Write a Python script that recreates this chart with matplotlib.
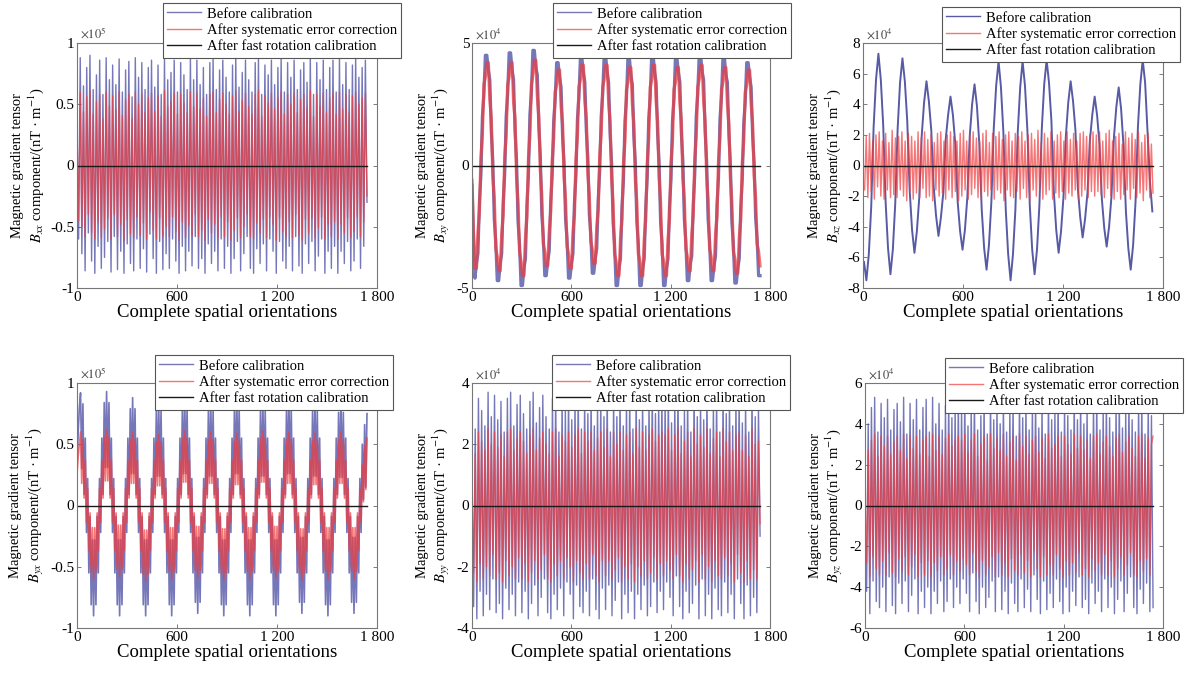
import numpy as np
import matplotlib
matplotlib.use('Agg')
import matplotlib.pyplot as plt

plt.rcParams['font.family'] = ['Liberation Serif', 'DejaVu Serif']
plt.rcParams['mathtext.fontset'] = 'stix'
plt.rcParams['axes.unicode_minus'] = False

# ---- data (values in units of 10^exp) ----
n_orient = 1740
x_ticks = [0, 600, 1200, 1800]
x_ticklabels = ['0', '600', '1 200', '1 800']
series_names = ['Before calibration', 'After systematic error correction',
                'After fast rotation calibration']
components = ['xx', 'xy', 'xz', 'yx', 'yy', 'yz']
exponents = [5, 4, 4, 5, 4, 4]
y_limits = [1, 5, 8, 1, 4, 6]
y_steps = [0.5, 5, 2, 0.5, 2, 2]

# B_xx
xx_before = [
    0.35, -0.60, 0.88, -0.72, 0.65, -0.86, 0.80, -0.55, 0.90, -0.78, 0.62, -0.88,
    0.74, -0.66, 0.86, -0.84, 0.58, -0.75, 0.88, -0.62, 0.70, -0.87, 0.82, -0.58,
    0.66, -0.85, 0.87, -0.70, 0.60, -0.88, 0.78, -0.64, 0.85, -0.80, 0.56, -0.86,
    0.88, -0.60, 0.72, -0.84, 0.84, -0.68, 0.62, -0.87, 0.80, -0.56, 0.86, -0.76,
    0.64, -0.88, 0.82, -0.62, 0.58, -0.85, 0.88, -0.72, 0.70, -0.84, 0.76, -0.60,
    0.86, -0.78, 0.60, -0.88, 0.84, -0.66, 0.74, -0.86, 0.62, -0.70, 0.88, -0.82,
    0.70, -0.58, 0.86, -0.84, 0.66, -0.76, 0.80, -0.88, 0.58, -0.64, 0.84, -0.80,
    0.88, -0.70, 0.62, -0.86, 0.78, -0.60, 0.86, -0.84, 0.72, -0.66, 0.60, -0.88,
    0.82, -0.76, 0.88, -0.62, 0.64, -0.86, 0.76, -0.72, 0.86, -0.58, 0.70, -0.84,
    0.60, -0.88, 0.84, -0.68, 0.88, -0.80, 0.58, -0.64, 0.82, -0.86, 0.74, -0.60,
    0.86, -0.70, 0.66, -0.88, 0.80, -0.62, 0.88, -0.78, 0.60, -0.84, 0.84, -0.66,
    0.72, -0.86, 0.86, -0.58, 0.62, -0.82, 0.78, -0.88, 0.84, -0.64, 0.68, -0.80,
    0.88, -0.62, 0.58, -0.86, 0.84, -0.74, 0.70, -0.60, 0.86, -0.88, 0.62, -0.70,
    0.80, -0.84, 0.86, -0.66, 0.60, -0.88, 0.88, -0.70, 0.66, -0.80, 0.84, -0.62,
    0.62, -0.86, 0.82, -0.78, 0.88, -0.60, 0.72, -0.84, 0.80, -0.66, 0.86, -0.30]
xx_after_sys = [
    0.25, -0.45, 0.60, -0.50, 0.44, -0.58, 0.56, -0.40, 0.61, -0.55, 0.42, -0.60,
    0.52, -0.46, 0.58, -0.59, 0.38, -0.52, 0.60, -0.43, 0.49, -0.60, 0.57, -0.40,
    0.46, -0.58, 0.60, -0.48, 0.41, -0.61, 0.54, -0.44, 0.58, -0.56, 0.38, -0.59,
    0.60, -0.42, 0.50, -0.57, 0.58, -0.47, 0.43, -0.60, 0.55, -0.38, 0.59, -0.53,
    0.44, -0.60, 0.57, -0.43, 0.40, -0.58, 0.61, -0.50, 0.48, -0.58, 0.52, -0.42,
    0.59, -0.54, 0.42, -0.61, 0.58, -0.46, 0.51, -0.59, 0.43, -0.49, 0.60, -0.57,
    0.48, -0.40, 0.59, -0.58, 0.46, -0.53, 0.55, -0.61, 0.40, -0.44, 0.58, -0.55,
    0.60, -0.48, 0.43, -0.59, 0.54, -0.42, 0.59, -0.58, 0.50, -0.46, 0.42, -0.61,
    0.57, -0.53, 0.61, -0.43, 0.44, -0.59, 0.53, -0.50, 0.59, -0.40, 0.48, -0.58,
    0.42, -0.60, 0.58, -0.47, 0.61, -0.55, 0.40, -0.44, 0.57, -0.59, 0.51, -0.42,
    0.59, -0.48, 0.46, -0.61, 0.55, -0.43, 0.60, -0.54, 0.42, -0.58, 0.58, -0.46,
    0.50, -0.59, 0.59, -0.40, 0.43, -0.57, 0.54, -0.61, 0.58, -0.44, 0.47, -0.55,
    0.61, -0.43, 0.40, -0.59, 0.58, -0.51, 0.48, -0.42, 0.59, -0.60, 0.43, -0.48,
    0.55, -0.58, 0.59, -0.46, 0.42, -0.60, 0.60, -0.48, 0.46, -0.55, 0.58, -0.43,
    0.43, -0.59, 0.57, -0.54, 0.60, -0.42, 0.50, -0.58, 0.55, -0.46, 0.59, -0.25]
xx_after_fast = [0.0, 0.0, 0.0, 0.0, 0.0, 0.0]

# B_xy (one row per half swing)
xy_before = [
    -0.8, -3.0, -4.6,
    -4.0, -3.6, -1.5, -0.4, 2.0, 2.9, 4.5, 4.5,
    3.9, 3.5, 1.4, 0.2, -2.2, -3.1, -4.7, -4.7,
    -4.0, -3.6, -1.5, -0.4, 2.0, 2.9, 4.6, 4.6,
    3.9, 3.5, 1.4, 0.2, -2.3, -3.2, -4.9, -4.9,
    -4.2, -3.8, -1.6, -0.4, 2.1, 3.0, 4.7, 4.7,
    4.0, 3.7, 1.6, 0.4, -2.0, -2.9, -4.5, -4.5,
    -3.9, -3.5, -1.5, -0.4, 1.8, 2.7, 4.2, 4.2,
    3.6, 3.2, 1.2, 0.1, -2.2, -3.0, -4.6, -4.6,
    -4.0, -3.6, -1.5, -0.4, 1.9, 2.8, 4.4, 4.4,
    3.8, 3.4, 1.4, 0.3, -2.0, -2.8, -4.4, -4.4,
    -3.8, -3.4, -1.4, -0.2, 2.0, 2.9, 4.5, 4.5,
    3.8, 3.4, 1.3, 0.1, -2.3, -3.2, -4.9, -4.9,
    -4.2, -3.8, -1.7, -0.6, 1.8, 2.7, 4.4, 4.4,
    3.7, 3.3, 1.2, 0.1, -2.3, -3.2, -4.9, -4.9,
    -4.2, -3.8, -1.7, -0.5, 1.9, 2.8, 4.5, 4.5,
    3.8, 3.4, 1.3, 0.1, -2.3, -3.2, -4.9, -4.9,
    -4.2, -3.8, -1.7, -0.6, 1.8, 2.7, 4.4, 4.4,
    3.8, 3.4, 1.3, 0.2, -2.2, -3.1, -4.7, -4.7,
    -4.0, -3.7, -1.6, -0.4, 2.0, 2.9, 4.5, 4.5,
    3.8, 3.5, 1.4, 0.2, -2.2, -3.1, -4.7, -4.7,
    -4.1, -3.7, -1.6, -0.5, 1.9, 2.8, 4.4, 4.4,
    3.7, 3.4, 1.3, 0.1, -2.3, -3.2, -4.8, -4.8,
    -4.2, -3.8, -1.7, -0.6, 1.7, 2.6, 4.2, 4.2,
    3.6, 3.2, 1.2, 0.1, -2.1, -3.0, -4.5, -4.5]
xy_after_sys = [
    -0.6, -2.7, -4.2,
    -4.2, -2.7, -1.9, 0.3, 1.3, 3.3, 3.6, 4.2,
    4.2, 2.7, 1.9, -0.4, -1.3, -3.4, -3.7, -4.3,
    -4.3, -2.8, -2.0, 0.3, 1.2, 3.3, 3.6, 4.2,
    4.2, 2.6, 1.9, -0.5, -1.5, -3.5, -3.9, -4.5,
    -4.5, -2.9, -2.1, 0.3, 1.2, 3.3, 3.7, 4.3,
    4.3, 2.8, 2.0, -0.2, -1.2, -3.2, -3.5, -4.1,
    -4.1, -2.7, -1.9, 0.2, 1.1, 3.0, 3.3, 3.9,
    3.9, 2.4, 1.7, -0.5, -1.4, -3.3, -3.6, -4.2,
    -4.2, -2.7, -2.0, 0.3, 1.2, 3.2, 3.5, 4.1,
    4.1, 2.6, 1.9, -0.3, -1.2, -3.1, -3.4, -4.0,
    -4.0, -2.5, -1.8, 0.4, 1.3, 3.2, 3.5, 4.1,
    4.1, 2.6, 1.8, -0.5, -1.5, -3.6, -3.9, -4.5,
    -4.5, -3.0, -2.2, 0.1, 1.0, 3.1, 3.4, 4.0,
    4.0, 2.5, 1.7, -0.6, -1.5, -3.6, -3.9, -4.5,
    -4.5, -3.0, -2.2, 0.1, 1.1, 3.2, 3.5, 4.1,
    4.1, 2.6, 1.8, -0.5, -1.5, -3.6, -3.9, -4.5,
    -4.5, -3.0, -2.2, 0.1, 1.0, 3.1, 3.4, 4.0,
    4.0, 2.5, 1.8, -0.5, -1.4, -3.4, -3.7, -4.3,
    -4.3, -2.8, -2.0, 0.2, 1.2, 3.2, 3.5, 4.1,
    4.1, 2.6, 1.8, -0.4, -1.4, -3.4, -3.7, -4.3,
    -4.3, -2.8, -2.1, 0.2, 1.1, 3.1, 3.4, 4.0,
    4.0, 2.5, 1.7, -0.5, -1.5, -3.5, -3.8, -4.4,
    -4.4, -2.9, -2.2, 0.1, 1.0, 3.0, 3.3, 3.9,
    3.9, 2.5, 1.7, -0.4, -1.3, -3.2, -3.5, -4.1]
xy_after_fast = [0.0, 0.0, 0.0, 0.0, 0.0, 0.0]

# B_xz
xz_before_span = (6, 1736)
xz_before = [
    -6.3, -7.5,
    -5.8, -2.7, 2.5, 5.6, 7.3,
    5.6, 2.6, -2.4, -5.4, -7.1,
    -5.5, -2.5, 2.4, 5.4, 7.0,
    5.5, 2.9, -1.6, -4.2, -5.7,
    -4.3, -2.1, 1.9, 4.1, 5.5,
    4.2, 2.3, -1.4, -3.3, -4.6,
    -3.4, -1.8, 1.7, 3.3, 4.5,
    3.3, 1.4, -2.4, -4.3, -5.5,
    -4.2, -2.1, 1.9, 4.0, 5.3,
    3.9, 1.4, -2.9, -5.4, -6.8,
    -5.2, -2.4, 2.4, 5.2, 6.8,
    5.1, 2.2, -2.9, -5.8, -7.5,
    -5.8, -2.9, 2.2, 5.1, 6.8,
    5.2, 2.3, -2.6, -5.5, -7.1,
    -5.5, -2.6, 2.4, 5.3, 6.9,
    5.4, 2.9, -1.7, -4.2, -5.7,
    -4.3, -2.1, 1.9, 4.1, 5.5,
    4.2, 2.3, -1.5, -3.4, -4.7,
    -3.5, -1.8, 1.6, 3.3, 4.5,
    3.3, 1.4, -2.2, -4.1, -5.3,
    -4.0, -2.0, 1.8, 3.8, 5.1,
    3.7, 1.3, -3.0, -5.4, -6.8,
    -5.2, -2.4, 2.5, 5.3, 6.9,
    5.4, 2.2, -1.0, -3.0]
xz_after_sys = [
    -1.5, -1.6, 1.9, -2.1, 2.1, -1.7, 1.6, -2.2, 2.0, -1.4, 2.2, -2.0,
    1.6, -2.2, 2.1, -1.6, 1.5, -2.1, 2.3, -1.9, 1.8, -2.1, 1.9, -1.6,
    2.2, -2.0, 1.6, -2.3, 2.1, -1.7, 1.9, -2.2, 1.6, -1.8, 2.2, -2.1,
    1.8, -1.5, 2.2, -2.1, 1.7, -2.0, 2.0, -2.3, 1.5, -1.6, 2.1, -2.0,
    2.2, -1.8, 1.6, -2.2, 2.0, -1.6, 2.2, -2.1, 1.9, -1.7, 1.6, -2.3,
    2.1, -2.0, 2.3, -1.6, 1.6, -2.2, 2.0, -1.9, 2.2, -1.5, 1.8, -2.1,
    1.6, -2.2, 2.1, -1.7, 2.3, -2.0, 1.5, -1.6, 2.1, -2.2, 1.9, -1.6,
    2.2, -1.8, 1.7, -2.3, 2.0, -1.6, 2.2, -2.0, 1.6, -2.1, 2.1, -1.7,
    1.9, -2.2, 2.2, -1.5, 1.6, -2.1, 2.0, -2.3, 2.1, -1.6, 1.7, -2.0,
    2.3, -1.6, 1.5, -2.2, 2.1, -1.9, 1.8, -1.6, 2.2, -2.2, 1.6, -1.8,
    2.0, -2.1, 2.2, -1.7, 1.6, -2.2, 2.2, -1.8, 1.7, -2.0, 2.1, -1.6,
    1.6, -2.2, 2.1, -2.0, 2.2, -1.6, 1.9, -2.1, 2.0, -1.7, 2.2, -2.0,
    2.0, -1.7, 2.2, -1.9, 1.6, -2.1, 2.1, -1.5, 2.3, -2.0, 1.6, -2.2,
    1.9, -1.7, 2.1, -2.2, 1.4, -1.9, 2.2, -1.6, 1.8, -2.2, 2.1, -1.5,
    1.7, -2.1, 2.2, -1.8, 1.5, -2.3, 2.0, -1.6, 2.1, -2.1, 1.4, -1.8]
xz_after_fast = [0.0, 0.0, 0.0, 0.0, 0.0, 0.0]

# B_yx (one row per half swing)
yx_before = [
    0.30, 0.60, 0.80, 0.92,
    0.30, 0.83, 0.09, 0.55, -0.22, 0.22, -0.55, -0.09, -0.81, -0.28, -0.90,
    -0.28, -0.81, -0.09, -0.55, 0.22, -0.22, 0.55, 0.09, 0.84, 0.31, 0.93,
    0.31, 0.84, 0.09, 0.55, -0.22, 0.22, -0.55, -0.09, -0.81, -0.28, -0.90,
    -0.28, -0.81, -0.09, -0.55, 0.22, -0.22, 0.55, 0.09, 0.79, 0.26, 0.88,
    0.26, 0.79, 0.09, 0.55, -0.22, 0.22, -0.55, -0.09, -0.81, -0.28, -0.90,
    -0.28, -0.81, -0.09, -0.55, 0.22, -0.22, 0.55, 0.09, 0.77, 0.24, 0.86,
    0.24, 0.77, 0.09, 0.55, -0.22, 0.22, -0.55, -0.09, -0.81, -0.28, -0.90,
    -0.28, -0.81, -0.09, -0.55, 0.22, -0.22, 0.55, 0.09, 0.79, 0.26, 0.88,
    0.26, 0.79, 0.09, 0.55, -0.22, 0.22, -0.55, -0.09, -0.79, -0.26, -0.88,
    -0.26, -0.79, -0.09, -0.55, 0.22, -0.22, 0.55, 0.09, 0.77, 0.24, 0.86,
    0.24, 0.77, 0.09, 0.55, -0.22, 0.22, -0.55, -0.09, -0.81, -0.28, -0.90,
    -0.28, -0.81, -0.09, -0.55, 0.22, -0.22, 0.55, 0.09, 0.79, 0.26, 0.88,
    0.26, 0.79, 0.09, 0.55, -0.22, 0.22, -0.55, -0.09, -0.81, -0.28, -0.90,
    -0.28, -0.81, -0.09, -0.55, 0.22, -0.22, 0.55, 0.09, 0.77, 0.24, 0.86,
    0.24, 0.77, 0.09, 0.55, -0.22, 0.22, -0.55, -0.09, -0.81, -0.28, -0.90,
    -0.28, -0.81, -0.09, -0.55, 0.22, -0.22, 0.55, 0.09, 0.79, 0.26, 0.88,
    0.26, 0.79, 0.09, 0.55, -0.22, 0.22, -0.55, -0.09, -0.79, -0.26, -0.88,
    -0.26, -0.79, -0.09, -0.55, 0.22, -0.22, 0.55, 0.09, 0.77, 0.24, 0.86,
    0.24, 0.77, 0.09, 0.55, -0.22, 0.22, -0.55, -0.09, -0.81, -0.28, -0.90,
    -0.28, -0.81, -0.09, -0.55, 0.22, -0.22, 0.55, 0.09, 0.76, 0.23, 0.85,
    0.23, 0.76, 0.09, 0.55, -0.22, 0.22, -0.55, -0.09, -0.79, -0.26, -0.88,
    -0.26, -0.79, -0.09, -0.55, 0.22, -0.22, 0.50, 0.05, 0.66, 0.15, 0.75]
yx_after_sys = [
    0.25, 0.40, 0.50, 0.60,
    0.18, 0.54, 0.06, 0.37, -0.14, 0.14, -0.37, -0.06, -0.54, -0.18, -0.60,
    -0.18, -0.54, -0.06, -0.37, 0.14, -0.14, 0.37, 0.06, 0.56, 0.20, 0.62,
    0.20, 0.56, 0.06, 0.37, -0.14, 0.14, -0.37, -0.06, -0.52, -0.16, -0.58,
    -0.16, -0.52, -0.06, -0.37, 0.14, -0.14, 0.37, 0.06, 0.54, 0.18, 0.60,
    0.18, 0.54, 0.06, 0.37, -0.14, 0.14, -0.37, -0.06, -0.56, -0.20, -0.62,
    -0.20, -0.56, -0.06, -0.37, 0.14, -0.14, 0.37, 0.06, 0.52, 0.16, 0.58,
    0.16, 0.52, 0.06, 0.37, -0.14, 0.14, -0.37, -0.06, -0.54, -0.18, -0.60,
    -0.18, -0.54, -0.06, -0.37, 0.14, -0.14, 0.37, 0.06, 0.55, 0.19, 0.61,
    0.19, 0.55, 0.06, 0.37, -0.14, 0.14, -0.37, -0.06, -0.53, -0.17, -0.59,
    -0.17, -0.53, -0.06, -0.37, 0.14, -0.14, 0.37, 0.06, 0.54, 0.18, 0.60,
    0.18, 0.54, 0.06, 0.37, -0.14, 0.14, -0.37, -0.06, -0.55, -0.19, -0.61,
    -0.19, -0.55, -0.06, -0.37, 0.14, -0.14, 0.37, 0.06, 0.53, 0.17, 0.59,
    0.17, 0.53, 0.06, 0.37, -0.14, 0.14, -0.37, -0.06, -0.54, -0.18, -0.60,
    -0.18, -0.54, -0.06, -0.37, 0.14, -0.14, 0.37, 0.06, 0.55, 0.19, 0.61,
    0.19, 0.55, 0.06, 0.37, -0.14, 0.14, -0.37, -0.06, -0.53, -0.17, -0.59,
    -0.17, -0.53, -0.06, -0.37, 0.14, -0.14, 0.37, 0.06, 0.54, 0.18, 0.60,
    0.18, 0.54, 0.06, 0.37, -0.14, 0.14, -0.37, -0.06, -0.55, -0.19, -0.61,
    -0.19, -0.55, -0.06, -0.37, 0.14, -0.14, 0.37, 0.06, 0.53, 0.17, 0.59,
    0.17, 0.53, 0.06, 0.37, -0.14, 0.14, -0.37, -0.06, -0.54, -0.18, -0.60,
    -0.18, -0.54, -0.06, -0.37, 0.14, -0.14, 0.37, 0.06, 0.54, 0.18, 0.60,
    0.18, 0.54, 0.06, 0.37, -0.14, 0.14, -0.37, -0.06, -0.54, -0.18, -0.60,
    -0.18, -0.54, -0.06, -0.37, 0.14, -0.14, 0.33, 0.03, 0.49, 0.13, 0.55]
yx_after_fast = [0.0, 0.0, 0.0, 0.0, 0.0, 0.0]

# B_yy
yy_before = [
    1.0, -3.3, 2.5, -3.7, 3.5, -2.8, 3.1, -3.6, 2.6, -2.9, 3.7, -3.4,
    2.9, -2.4, 3.6, -3.5, 2.8, -3.2, 3.4, -3.7, 2.4, -2.7, 3.5, -3.4,
    3.7, -2.9, 2.6, -3.6, 3.3, -2.5, 3.6, -3.5, 3.0, -2.8, 2.5, -3.7,
    3.4, -3.2, 3.7, -2.6, 2.7, -3.6, 3.2, -3.0, 3.6, -2.4, 2.9, -3.5,
    2.5, -3.7, 3.5, -2.9, 3.7, -3.4, 2.4, -2.7, 3.4, -3.6, 3.1, -2.5,
    3.6, -2.9, 2.8, -3.7, 3.4, -2.6, 3.7, -3.3, 2.5, -3.5, 3.5, -2.8,
    3.0, -3.6, 3.6, -2.4, 2.6, -3.4, 3.3, -3.7, 3.5, -2.7, 2.9, -3.4,
    3.7, -2.6, 2.4, -3.6, 3.5, -3.1, 2.9, -2.5, 3.6, -3.7, 2.6, -2.9,
    3.4, -3.5, 3.6, -2.8, 2.5, -3.7, 3.7, -2.9, 2.8, -3.4, 3.5, -2.6,
    2.6, -3.6, 3.4, -3.3, 3.7, -2.5, 3.0, -3.5, 3.4, -2.8, 3.6, -3.4,
    3.4, -2.5, 3.7, -3.0, 2.7, -3.6, 3.4, -2.3, 3.8, -3.3, 2.6, -3.7,
    3.1, -2.8, 3.6, -3.5, 2.4, -3.2, 3.7, -2.6, 2.9, -3.7, 3.4, -2.4,
    2.8, -3.6, 3.7, -2.9, 2.5, -3.7, 3.3, -2.7, 3.6, -3.4, 2.4, -3.6,
    3.7, -2.5, 3.0, -3.5, 3.5, -2.9, 2.6, -3.7, 3.4, -2.4, 3.6, -3.2,
    2.7, -3.7, 3.4, -2.6, 2.4, -3.6, 3.7, -3.0, 2.9, -3.5, 3.2, -1.0]
yy_after_sys = [
    0.6, -2.2, 1.7, -2.5, 2.4, -1.9, 2.1, -2.4, 1.8, -2.0, 2.5, -2.3,
    2.0, -1.6, 2.4, -2.4, 1.9, -2.2, 2.3, -2.5, 1.6, -1.8, 2.4, -2.3,
    2.5, -2.0, 1.8, -2.4, 2.2, -1.7, 2.4, -2.4, 2.1, -1.9, 1.7, -2.5,
    2.3, -2.2, 2.5, -1.8, 1.8, -2.4, 2.2, -2.1, 2.4, -1.6, 2.0, -2.4,
    1.7, -2.5, 2.4, -1.9, 2.5, -2.3, 1.6, -1.8, 2.3, -2.4, 2.1, -1.7,
    2.4, -2.0, 1.9, -2.5, 2.3, -1.8, 2.5, -2.2, 1.7, -2.4, 2.4, -1.9,
    2.1, -2.4, 2.4, -1.6, 1.8, -2.3, 2.2, -2.5, 2.4, -1.8, 1.9, -2.3,
    2.5, -1.8, 1.6, -2.4, 2.4, -2.1, 2.0, -1.7, 2.4, -2.5, 1.8, -2.0,
    2.3, -2.4, 2.4, -1.9, 1.7, -2.5, 2.5, -2.0, 1.9, -2.3, 2.4, -1.8,
    1.8, -2.4, 2.3, -2.2, 2.5, -1.7, 2.1, -2.4, 2.3, -1.9, 2.4, -2.3,
    2.3, -1.8, 2.5, -2.1, 1.8, -2.4, 2.3, -1.6, 2.5, -2.3, 1.7, -2.5,
    2.1, -1.9, 2.4, -2.4, 1.6, -2.1, 2.5, -1.8, 2.0, -2.5, 2.3, -1.6,
    1.9, -2.4, 2.5, -2.0, 1.7, -2.5, 2.2, -1.8, 2.4, -2.3, 1.6, -2.4,
    2.5, -1.7, 2.1, -2.3, 2.4, -1.9, 1.8, -2.5, 2.3, -1.6, 2.4, -2.2,
    1.8, -2.5, 2.3, -1.8, 1.6, -2.4, 2.5, -2.1, 2.0, -2.4, 2.1, -0.6]
yy_after_fast = [0.0, 0.0, 0.0, 0.0, 0.0, 0.0]

# B_yz
yz_before = [
    -0.5, -4.2, 4.0, -5.3, 4.8, -3.7, 5.3, -4.7, 3.6, -5.0, 5.0, -4.0,
    4.3, -5.2, 5.2, -3.5, 3.7, -4.9, 4.7, -5.3, 5.0, -3.8, 4.1, -4.8,
    5.3, -3.7, 3.5, -5.2, 5.0, -4.4, 4.2, -3.6, 5.2, -5.3, 3.7, -4.2,
    4.8, -5.0, 5.2, -4.0, 3.6, -5.3, 5.3, -4.2, 4.0, -4.8, 5.0, -3.7,
    3.7, -5.2, 4.9, -4.7, 5.3, -3.6, 4.3, -5.0, 4.8, -4.0, 5.2, -4.8,
    4.8, -3.6, 5.3, -4.3, 3.9, -5.2, 4.8, -3.3, 5.4, -4.7, 3.7, -5.3,
    4.4, -4.0, 5.2, -5.0, 3.5, -4.5, 5.3, -3.7, 4.2, -5.2, 4.9, -3.5,
    4.0, -5.1, 5.2, -4.2, 3.6, -5.3, 4.7, -3.8, 5.1, -4.8, 3.4, -5.2,
    5.3, -3.6, 4.3, -5.0, 5.0, -4.1, 3.7, -5.2, 4.8, -3.4, 5.2, -4.6,
    3.8, -5.3, 4.9, -3.7, 3.5, -5.1, 5.3, -4.3, 4.2, -5.0, 4.6, -3.6,
    5.2, -4.7, 3.6, -5.3, 5.0, -4.0, 4.4, -5.2, 3.7, -4.2, 5.3, -4.9,
    4.2, -3.5, 5.2, -5.0, 4.0, -4.6, 4.8, -5.3, 3.5, -3.8, 5.0, -4.8,
    5.3, -4.2, 3.7, -5.2, 4.7, -3.6, 5.2, -5.0, 4.3, -4.0, 3.6, -5.3,
    4.9, -4.6, 5.3, -3.7, 3.8, -5.2, 4.6, -4.3, 5.2, -3.5, 4.2, -5.0,
    3.6, -5.3, 5.0, -4.1, 5.3, -4.8, 3.5, -3.8, 4.9, -5.2, 4.4, -5.0]
yz_after_sys = [
    0.5, -2.8, 2.7, -3.5, 3.2, -2.5, 3.5, -3.1, 2.4, -3.4, 3.4, -2.7,
    2.9, -3.4, 3.4, -2.3, 2.5, -3.3, 3.1, -3.5, 3.4, -2.6, 2.7, -3.2,
    3.5, -2.5, 2.3, -3.4, 3.4, -3.0, 2.8, -2.4, 3.4, -3.5, 2.5, -2.8,
    3.2, -3.4, 3.4, -2.7, 2.4, -3.5, 3.5, -2.8, 2.7, -3.2, 3.4, -2.5,
    2.5, -3.4, 3.3, -3.1, 3.5, -2.4, 2.9, -3.4, 3.2, -2.7, 3.4, -3.2,
    3.2, -2.6, 3.5, -2.9, 2.6, -3.4, 3.2, -2.3, 3.5, -3.2, 2.4, -3.5,
    3.0, -2.7, 3.4, -3.4, 2.2, -3.0, 3.5, -2.5, 2.8, -3.5, 3.3, -2.3,
    2.7, -3.4, 3.5, -2.8, 2.4, -3.5, 3.1, -2.6, 3.4, -3.2, 2.2, -3.4,
    3.5, -2.4, 2.9, -3.3, 3.4, -2.7, 2.5, -3.5, 3.2, -2.2, 3.4, -3.1,
    2.6, -3.5, 3.3, -2.5, 2.3, -3.4, 3.5, -2.9, 2.8, -3.4, 3.0, -2.4,
    3.4, -3.1, 2.4, -3.5, 3.4, -2.7, 3.0, -3.4, 2.5, -2.8, 3.5, -3.3,
    2.8, -2.3, 3.4, -3.4, 2.7, -3.1, 3.2, -3.5, 2.3, -2.6, 3.4, -3.2,
    3.5, -2.8, 2.5, -3.4, 3.1, -2.4, 3.4, -3.4, 2.9, -2.7, 2.4, -3.5,
    3.3, -3.1, 3.5, -2.5, 2.6, -3.4, 3.1, -2.9, 3.4, -2.3, 2.8, -3.4,
    2.4, -3.5, 3.4, -2.7, 3.5, -3.2, 2.3, -2.6, 3.3, -3.4, 3.0, 3.4]
yz_after_fast = [0.0, 0.0, 0.0, 0.0, 0.0, 0.0]

# before, x-span of before, after systematic, after fast
panels = [
    (xx_before, None, xx_after_sys, xx_after_fast),
    (xy_before, None, xy_after_sys, xy_after_fast),
    (xz_before, xz_before_span, xz_after_sys, xz_after_fast),
    (yx_before, None, yx_after_sys, yx_after_fast),
    (yy_before, None, yy_after_sys, yy_after_fast),
    (yz_before, None, yz_after_sys, yz_after_fast),
]

# ---- layout (pixels of the 1187x673 figure) ----
W, H = 1187, 673
ax_px = [(77, 43, 377, 288), (472, 43, 770, 288), (863, 43, 1163, 288),
         (77, 383, 377, 628), (472, 383, 770, 628), (865, 383, 1163, 628)]
leg_px = [(163, 3), (553, 3), (942, 7), (155, 355), (552, 355), (945, 358)]
band_lw = [1.0, 2.3, 1.0, 1.2, 1.0, 1.0]

c_before = '#3a3d9c'
c_sys = '#f03c3c'
c_fast = '#1a1a1a'

fig = plt.figure(figsize=(W / 100, H / 100), dpi=100)
fig.patch.set_facecolor('white')

for i, (before, span, after_sys, after_fast) in enumerate(panels):
    l, t, r, b = ax_px[i]
    ax = fig.add_axes([l / W, 1 - b / H, (r - l) / W, (b - t) / H])

    lw = band_lw[i]
    if span is None:
        xb = np.linspace(0, n_orient, len(before))
        h1, = ax.plot(xb, before, color=c_before, lw=lw, alpha=0.7)
    else:
        xb = np.linspace(span[0], span[1], len(before))
        h1, = ax.plot(xb, before, color='#2e318f', lw=1.4, alpha=0.8)
    xs = np.linspace(0, n_orient, len(after_sys))
    xf = np.linspace(0, n_orient, len(after_fast))
    h2, = ax.plot(xs, after_sys, color=c_sys, lw=lw, alpha=0.7)
    h3, = ax.plot(xf, after_fast, color=c_fast, lw=1.0)

    lim = y_limits[i]
    ax.set_xlim(0, 1800)
    ax.set_ylim(-lim, lim)
    ax.set_xticks(x_ticks)
    ax.set_xticklabels(x_ticklabels)
    yt = np.arange(-lim, lim + y_steps[i] / 2, y_steps[i])
    ax.set_yticks(yt)
    ax.set_yticklabels([f'{v:g}' for v in yt])
    ax.tick_params(direction='in', top=True, right=True, length=3, width=0.6,
                   color='#666666', labelsize=11, pad=2)
    for s in ax.spines.values():
        s.set_color('#777777')
        s.set_linewidth(0.8)

    ax.set_xlabel('Complete spatial orientations', fontsize=13.5, labelpad=0)
    ax.set_ylabel('Magnetic gradient tensor\n$B_{%s}$ component/(nT · m$^{-1}$)'
                  % components[i], fontsize=10.5, labelpad=3, linespacing=1.15)
    ax.text(0.01, 1.005, r'$\times10^{%d}$' % exponents[i], transform=ax.transAxes,
            fontsize=9, color='#444444', ha='left', va='bottom')

    lx, ly = leg_px[i]
    leg = ax.legend([h1, h2, h3], series_names, loc='upper left',
                    bbox_to_anchor=(lx / W, 1 - ly / H), bbox_transform=fig.transFigure,
                    fontsize=10.5, frameon=True, fancybox=False, framealpha=1,
                    edgecolor='#555555', borderpad=0.3, labelspacing=0.2,
                    handlelength=2.3, handletextpad=0.4, borderaxespad=0)
    leg.get_frame().set_linewidth(0.8)
    for lh in leg.get_lines():
        lh.set_linewidth(1.0)
    leg.set_zorder(10)

fig.savefig('out.png', dpi=100)
